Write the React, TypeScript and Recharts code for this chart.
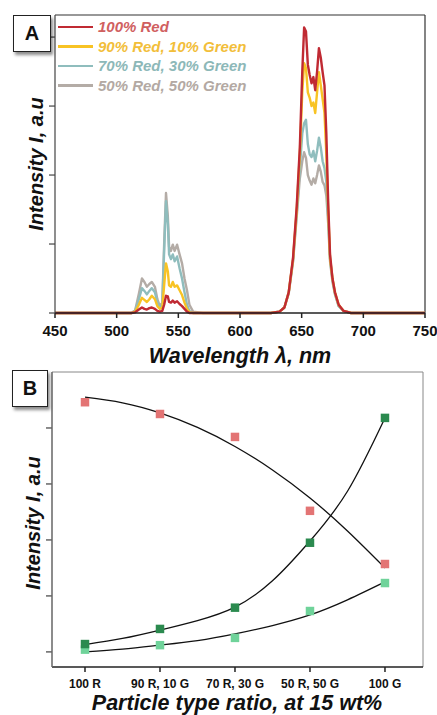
import React from 'react';
import {
  LineChart,
  Line,
  XAxis,
  YAxis,
  Legend,
  ComposedChart,
  Scatter,
  ZAxis,
  ReferenceLine,
} from 'recharts';

// ---------- Panel A: emission spectra ----------
const wavelengths = [
  450, 500, 512, 515, 518, 520.5, 522.5, 524.5, 526.5, 528.5, 531, 533, 535, 537, 538.5,
  540, 541.5, 542.5, 544, 545.5, 547, 549, 551, 553, 555, 557, 559, 562, 570, 600, 625,
  632, 636, 639.5, 643, 646, 648.5, 650.5, 652, 653.5, 655, 656.5, 658, 659.5, 661, 662.5,
  664, 665.5, 667, 668.5, 670, 671.5, 673, 675, 677, 680, 684, 690, 700, 750,
];

const red100 = [
  0, 0, 0, 0.01, 0.05, 0.08, 0.06, 0.05, 0.07, 0.08, 0.06, 0.03, 0.02, 0.03, 0.12,
  0.25, 0.24, 0.16, 0.15, 0.18, 0.15, 0.17, 0.13, 0.1, 0.06, 0.02, 0, 0, 0, 0, 0,
  0.02, 0.08, 0.3, 0.8, 1.55, 2.4, 3.5, 4.14, 4.08, 3.6, 3.45, 3.33, 3.42, 3.23, 3.5,
  3.84, 3.7, 3.49, 3.3, 2.6, 1.6, 0.85, 0.5, 0.3, 0.12, 0.03, 0, 0, 0,
];

const red90green10 = [
  0, 0, 0, 0.02, 0.12, 0.22, 0.19, 0.16, 0.2, 0.25, 0.2, 0.1, 0.06, 0.08, 0.4,
  0.72, 0.6, 0.4, 0.38, 0.45, 0.38, 0.4, 0.33, 0.26, 0.15, 0.06, 0.01, 0, 0, 0, 0,
  0.02, 0.08, 0.3, 0.78, 1.5, 2.3, 3.2, 3.62, 3.55, 3.2, 3.12, 3.0, 3.05, 2.9, 3.2,
  3.49, 3.3, 3.1, 2.9, 2.3, 1.5, 0.8, 0.5, 0.3, 0.12, 0.03, 0, 0, 0,
];

const red70green30 = [
  0, 0, 0, 0.03, 0.2, 0.36, 0.32, 0.27, 0.32, 0.36, 0.3, 0.15, 0.08, 0.12, 0.9,
  1.62, 1.3, 0.85, 0.78, 0.85, 0.75, 0.82, 0.65, 0.5, 0.3, 0.12, 0.03, 0, 0, 0, 0,
  0.02, 0.08, 0.3, 0.76, 1.45, 2.1, 2.6, 2.75, 2.8, 2.45, 2.3, 2.26, 2.35, 2.2, 2.35,
  2.54, 2.4, 2.2, 2.1, 1.9, 1.4, 0.78, 0.48, 0.28, 0.1, 0.03, 0, 0, 0,
];

const red50green50 = [
  0, 0, 0, 0.04, 0.28, 0.5, 0.45, 0.38, 0.42, 0.45, 0.38, 0.2, 0.1, 0.15, 1.0,
  1.74, 1.4, 0.96, 0.9, 0.99, 0.9, 0.99, 0.85, 0.72, 0.5, 0.33, 0.12, 0.02, 0, 0, 0,
  0.02, 0.08, 0.28, 0.74, 1.4, 1.95, 2.2, 2.33, 2.25, 2.0, 1.92, 1.86, 1.95, 1.88, 2.0,
  2.14, 2.05, 1.9, 1.85, 1.7, 1.3, 0.75, 0.45, 0.27, 0.1, 0.03, 0, 0, 0,
];

const wavelengthTicks = [450, 500, 550, 600, 650, 700, 750];
const spectrumIntensityTicks = [0, 1, 2, 3, 4];

const spectrumSeries = [
  { key: 'r100', name: '100% Red', values: red100, stroke: '#c02a33', label: '#d0605f' },
  { key: 'r90', name: '90% Red, 10% Green', values: red90green10, stroke: '#f8c324', label: '#f2be3a' },
  { key: 'r70', name: '70% Red, 30% Green', values: red70green30, stroke: '#8fbdbd', label: '#8db8b8' },
  { key: 'r50', name: '50% Red, 50% Green', values: red50green50, stroke: '#b4aca6', label: '#b3a9a3' },
];

const spectrumRows = wavelengths.map((wl, i) => {
  const row: Record<string, number> = { wl };
  spectrumSeries.forEach((s) => {
    row[s.key] = s.values[i];
  });
  return row;
});

// ---------- Panel B: peak intensity vs. particle ratio ----------
const ratioLabels = ['100 R', '90 R, 10 G', '70 R, 30 G', '50 R, 50 G', '100 G'];
const ratioPositions = [0, 1, 2, 3, 4];
const redPeakIntensity = [4.46, 4.25, 3.84, 2.52, 1.57];
const greenPeakIntensity = [0.14, 0.41, 0.79, 1.95, 4.18];
const greenBandIntensity = [0.04, 0.12, 0.25, 0.73, 1.23];

const fitPositions = [0, 0.5, 1, 1.5, 2, 2.5, 3, 3.5, 4];
const redFit = [4.55, 4.45, 4.27, 4.01, 3.67, 3.25, 2.75, 2.16, 1.5];
const greenPeakFit = [0.13, 0.24, 0.39, 0.56, 0.8, 1.27, 1.98, 2.87, 4.18];
const greenBandFit = [0.0, 0.05, 0.12, 0.2, 0.32, 0.47, 0.66, 0.93, 1.25];
const ratioIntensityTicks = [0, 1, 2, 3, 4];

const toPoints = (xs: number[], ys: number[]) => xs.map((x, i) => ({ x, y: ys[i] }));

const FONT = '"Liberation Sans", Arial, sans-serif';

const PanelTag = ({ text, left, top, w, h }: { text: string; left: number; top: number; w: number; h: number }) => (
  <div
    style={{
      position: 'absolute',
      left,
      top,
      width: w,
      height: h,
      boxSizing: 'border-box',
      border: '1.5px solid #222',
      background: '#fff',
      boxShadow: '2px 3px 3px rgba(0,0,0,0.45)',
      fontFamily: FONT,
      fontWeight: 'bold',
      fontSize: 20,
      color: '#111',
      display: 'flex',
      alignItems: 'center',
      justifyContent: 'center',
      zIndex: 2,
    }}
  >
    {text}
  </div>
);

const SpectrumLegend = () => (
  <div style={{ fontFamily: FONT }}>
    {spectrumSeries.map((s) => (
      <div key={s.key} style={{ display: 'flex', alignItems: 'center', height: 19.5 }}>
        <div style={{ width: 35, height: 2.5, background: s.stroke, marginRight: 5 }} />
        <span style={{ color: s.label, fontSize: 15, fontWeight: 'bold', fontStyle: 'italic', whiteSpace: 'nowrap' }}>
          {s.name}
        </span>
      </div>
    ))}
  </div>
);

const axisText = { fontFamily: FONT, fontWeight: 'bold' as const, fill: '#111' };

export default function App() {
  return (
    <div style={{ position: 'fixed', left: 0, top: 0, width: 437, height: 715, background: '#fff', overflow: 'hidden' }}>
      <PanelTag text="A" left={13} top={15} w={38} h={37} />
      <PanelTag text="B" left={12} top={370} w={36} h={37} />

      <div style={{ position: 'absolute', left: 0, top: 0 }}>
        <LineChart width={437} height={370} data={spectrumRows} margin={{ top: 15, right: 12, bottom: 0, left: 0 }}>
          <XAxis
            dataKey="wl"
            type="number"
            domain={[450, 750]}
            ticks={wavelengthTicks}
            allowDataOverflow
            height={57}
            stroke="#222"
            strokeWidth={1.5}
            tickSize={5}
            tickMargin={7}
            tick={{ ...axisText, fontSize: 15 }}
            label={{
              content: () => (
                <text x={240} y={363} textAnchor="middle" style={{ ...axisText, fontSize: 21.5, fontStyle: 'italic' }} fill="#111">
                  Wavelength λ, nm
                </text>
              ),
            }}
          />
          <YAxis
            type="number"
            domain={[0, 4.32]}
            ticks={spectrumIntensityTicks}
            width={55}
            stroke="#444"
            strokeWidth={1.2}
            tickSize={6}
            tickFormatter={() => ''}
            label={{
              content: () => (
                <text
                  x={36}
                  y={164}
                  transform="rotate(-90 36 164)"
                  textAnchor="middle"
                  dominantBaseline="central"
                  style={{ ...axisText, fontSize: 20, fontStyle: 'italic' }}
                  fill="#111"
                >
                  Intensity I, a.u
                </text>
              ),
            }}
          />
          <ReferenceLine y={4.32} stroke="#333" strokeWidth={1.2} />
          <ReferenceLine x={750} stroke="#333" strokeWidth={1.2} />
          {[...spectrumSeries].reverse().map((s) => (
            <Line
              key={s.key}
              dataKey={s.key}
              name={s.name}
              type="linear"
              stroke={s.stroke}
              strokeWidth={2.4}
              strokeLinejoin="round"
              dot={false}
              isAnimationActive={false}
            />
          ))}
          <Legend
            layout="vertical"
            align="center"
            verticalAlign="middle"
            wrapperStyle={{ left: 58, top: 17, width: 260, height: 80 }}
            content={() => <SpectrumLegend />}
          />
        </LineChart>
      </div>

      <div style={{ position: 'absolute', left: 0, top: 360 }}>
        <ComposedChart width={437} height={355} margin={{ top: 12, right: 14, bottom: 0, left: 0 }}>
          <XAxis
            dataKey="x"
            type="number"
            domain={[-0.44, 4.507]}
            ticks={ratioPositions}
            allowDataOverflow
            height={48}
            stroke="#222"
            strokeWidth={1.5}
            tickSize={5}
            tickMargin={7}
            tick={{ ...axisText, fontSize: 12 }}
            tickFormatter={(v: number) => ratioLabels[v] ?? ''}
            label={{
              content: () => (
                <text x={237} y={350} textAnchor="middle" style={{ ...axisText, fontSize: 21.5, fontStyle: 'italic' }} fill="#111">
                  Particle type ratio, at 15 wt%
                </text>
              ),
            }}
          />
          <YAxis
            dataKey="y"
            type="number"
            domain={[-0.27, 5.0]}
            ticks={ratioIntensityTicks}
            allowDataOverflow
            width={52}
            stroke="#666"
            strokeWidth={1.5}
            tickSize={6}
            tickFormatter={() => ''}
            label={{
              content: () => (
                <text
                  x={33}
                  y={163}
                  transform="rotate(-90 33 163)"
                  textAnchor="middle"
                  dominantBaseline="central"
                  style={{ ...axisText, fontSize: 20, fontStyle: 'italic' }}
                  fill="#111"
                >
                  Intensity I, a.u
                </text>
              ),
            }}
          />
          <ZAxis type="number" range={[72, 72]} />
          <ReferenceLine y={5.0} stroke="#888" strokeWidth={1} />
          <ReferenceLine x={4.507} stroke="#888" strokeWidth={1} />
          <Scatter
            data={toPoints(ratioPositions, redPeakIntensity)}
            shape="square"
            fill="#e37474"
            isAnimationActive={false}
          />
          <Scatter
            data={toPoints(ratioPositions, greenBandIntensity)}
            shape="square"
            fill="#6fd39a"
            isAnimationActive={false}
          />
          <Scatter
            data={toPoints(ratioPositions, greenPeakIntensity)}
            shape="square"
            fill="#2b8a4f"
            isAnimationActive={false}
          />
          <Line
            data={toPoints(fitPositions, redFit)}
            dataKey="y"
            type="natural"
            stroke="#111"
            strokeWidth={1.3}
            dot={false}
            isAnimationActive={false}
          />
          <Line
            data={toPoints(fitPositions, greenPeakFit)}
            dataKey="y"
            type="natural"
            stroke="#111"
            strokeWidth={1.3}
            dot={false}
            isAnimationActive={false}
          />
          <Line
            data={toPoints(fitPositions, greenBandFit)}
            dataKey="y"
            type="natural"
            stroke="#111"
            strokeWidth={1.3}
            dot={false}
            isAnimationActive={false}
          />
        </ComposedChart>
      </div>
    </div>
  );
}
